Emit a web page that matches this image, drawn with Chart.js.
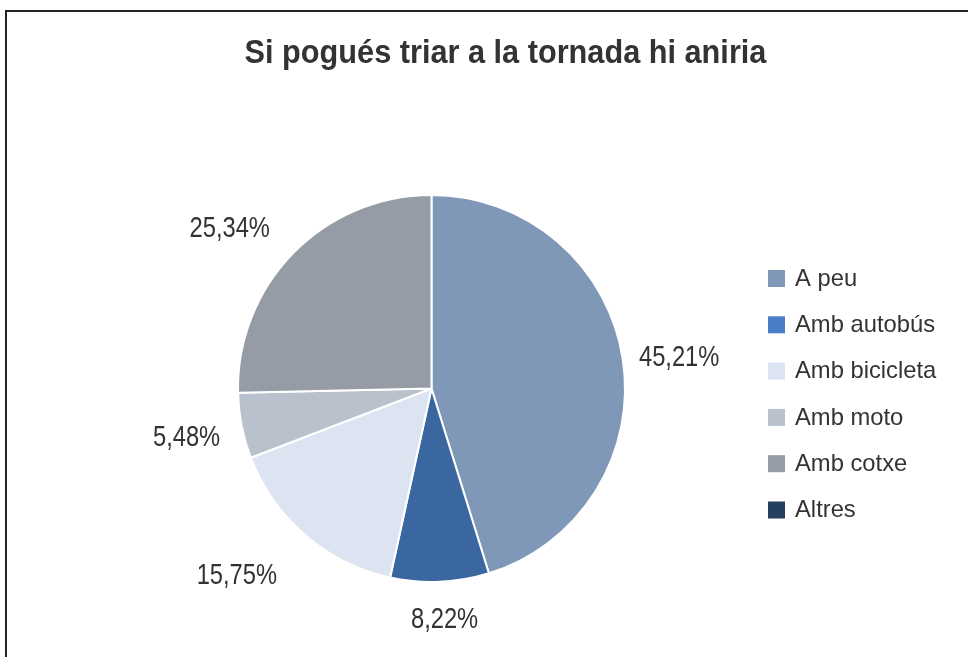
<!DOCTYPE html>
<html><head><meta charset="utf-8">
<script src="https://cdn.jsdelivr.net/npm/chart.js@4/dist/chart.umd.min.js"></script>
<style>html,body{margin:0;padding:0;background:#fff;}#wrap{width:968px;height:657px;position:relative;}</style>
</head><body><div id="wrap"><canvas id="c" width="968" height="657"></canvas></div>
<script>
const title = "Si pogués triar a la tornada hi aniria";
const categories = ["A peu", "Amb autobús", "Amb bicicleta", "Amb moto", "Amb cotxe", "Altres"];
const percentages = [45.21, 8.22, 15.75, 5.48, 25.34, 0];
const sliceColors = ["#7f98b8", "#3b67a0", "#dbe4f0", "#b9c2cc", "#959ca5", "#243f60"];
const legendColors = ["#7f98b8", "#4a7ec5", "#dbe4f0", "#b9c2cc", "#959ca5", "#243f60"];
// label placement style: distance factor (x outer radius) and angular nudge (degrees)
const labelDistance = [1.29, 1.19, 1.394, 1.29, 1.332, 1.2];
const labelAngleShift = [1.4, -0.8, 5.5, 0, -5.9, 0];

const FONT = "'Liberation Sans', Arial, sans-serif";

function scaledText(ctx, text, x, y, sx, align) {
  ctx.save();
  ctx.translate(x, y);
  ctx.scale(sx, 1);
  ctx.textAlign = align;
  ctx.fillText(text, 0, 0);
  ctx.restore();
}

const deco = {
  id: 'deco',
  afterDraw(chart) {
    const ctx = chart.ctx;
    ctx.save();
    // frame
    ctx.strokeStyle = '#222';
    ctx.lineWidth = 2;
    ctx.beginPath();
    ctx.moveTo(6, 660); ctx.lineTo(6, 11); ctx.lineTo(970, 11);
    ctx.stroke();
    // title
    ctx.fillStyle = '#333';
    ctx.font = "bold 33px " + FONT;
    ctx.textBaseline = 'middle';
    scaledText(ctx, title, 505.5, 54, 0.93, 'center');
    // data labels
    const meta = chart.getDatasetMeta(0);
    ctx.font = "30px " + FONT;
    ctx.fillStyle = '#333';
    meta.data.forEach((arc, i) => {
      const v = percentages[i];
      if (!v) return;
      const mid = (arc.startAngle + arc.endAngle) / 2 + labelAngleShift[i] * Math.PI / 180;
      const r = arc.outerRadius * labelDistance[i];
      const x = arc.x + Math.cos(mid) * r;
      const y = arc.y + Math.sin(mid) * r + 1;
      scaledText(ctx, v.toFixed(2).replace('.', ',') + '%', x, y, 0.79, 'center');
    });
    // legend
    ctx.font = "24px " + FONT;
    categories.forEach((c, i) => {
      const y = 278 + i * 46.3;
      ctx.fillStyle = legendColors[i];
      ctx.fillRect(768, y - 8, 17, 17);
      ctx.fillStyle = '#333';
      scaledText(ctx, c, 795, y + 1, 0.99, 'left');
    });
    ctx.restore();
  }
};

new Chart(document.getElementById('c'), {
  type: 'pie',
  data: {
    labels: categories,
    datasets: [{
      data: percentages,
      backgroundColor: sliceColors,
      borderColor: '#ffffff',
      borderWidth: 2
    }]
  },
  options: {
    responsive: false,
    animation: false,
    events: [],
    layout: { padding: { left: 237, right: 342, top: 194, bottom: 74 } },
    plugins: { legend: { display: false }, title: { display: false }, tooltip: { enabled: false } }
  },
  plugins: [deco]
});
</script></body></html>
